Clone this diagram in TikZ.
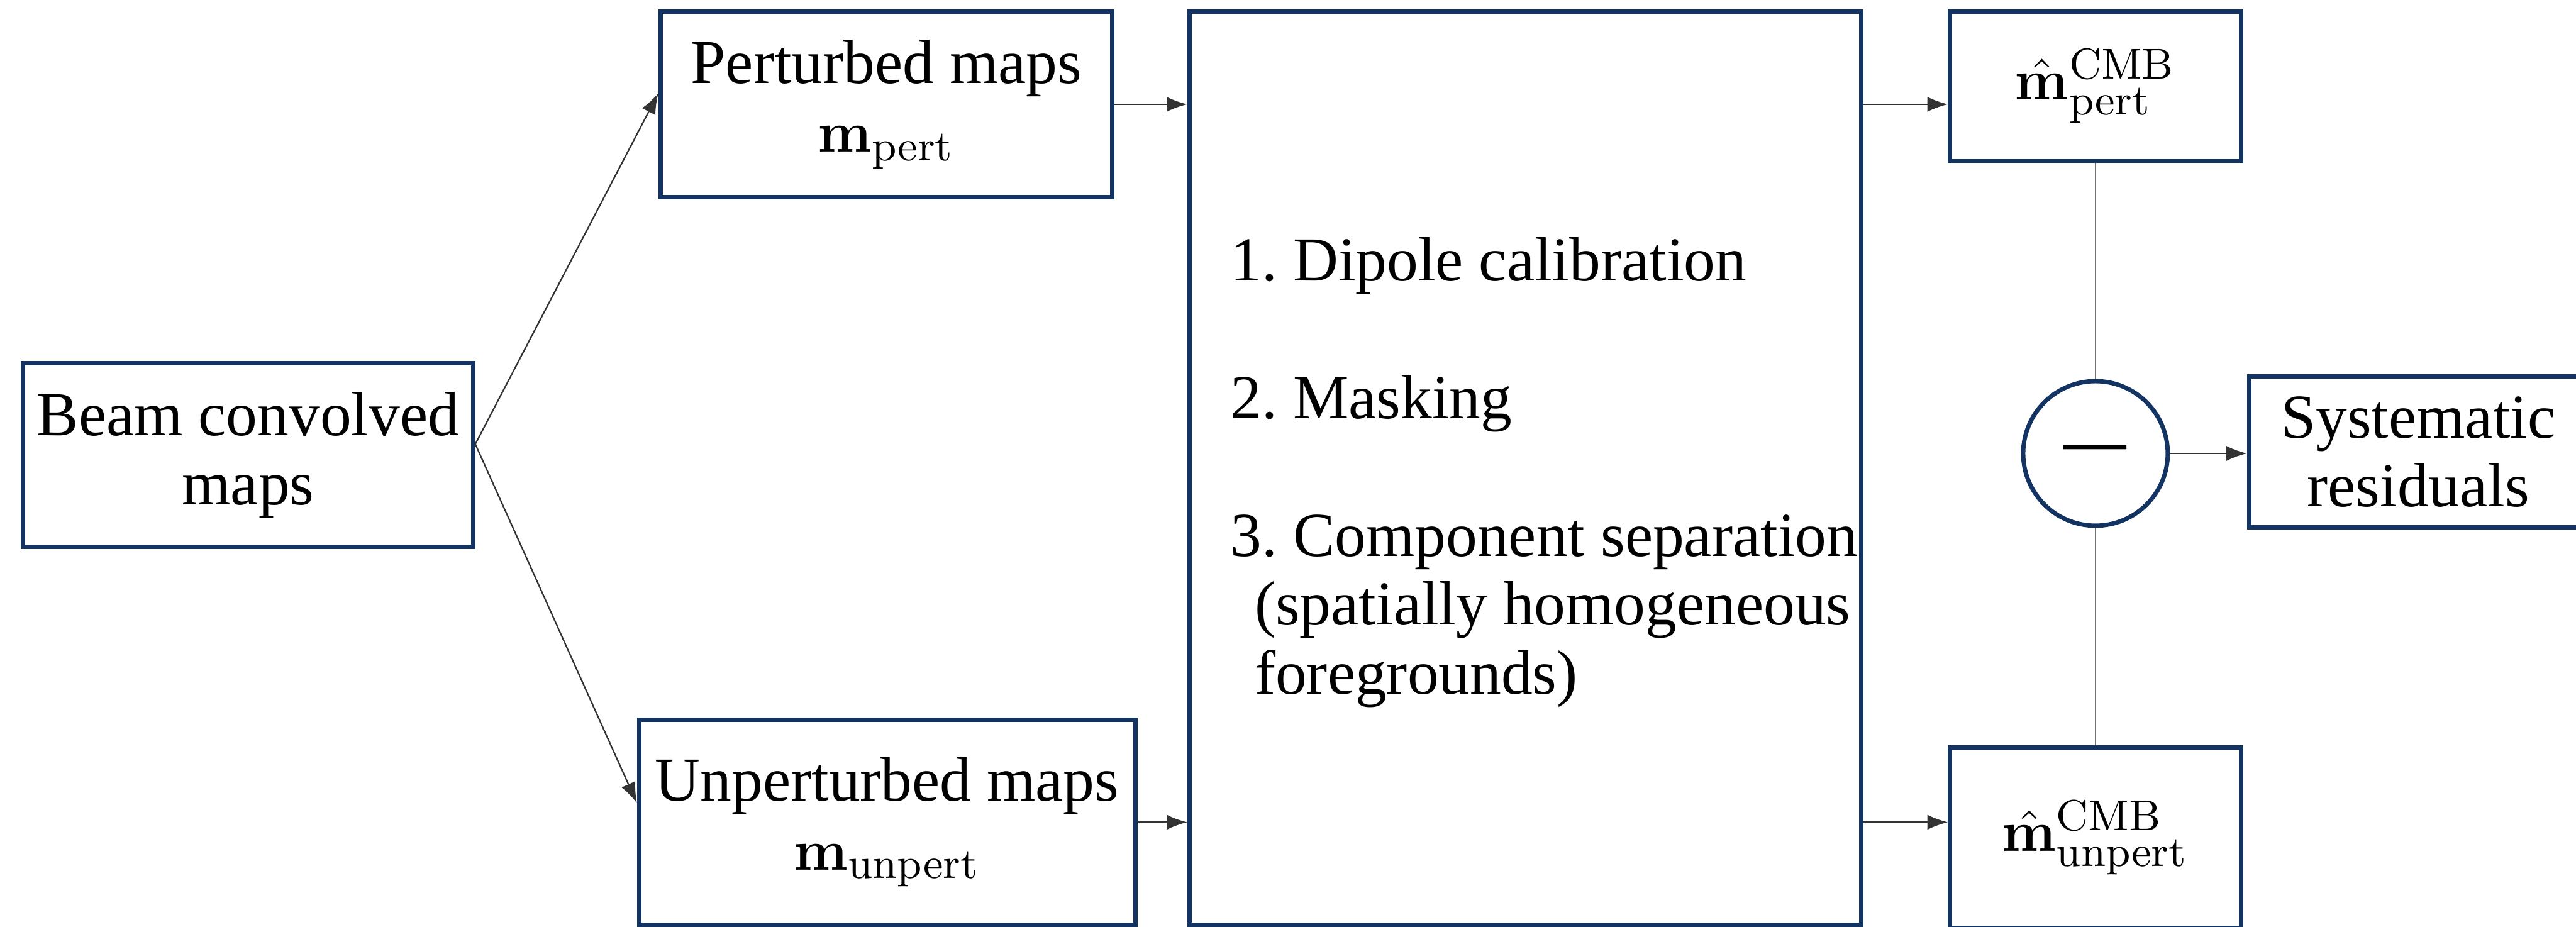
\documentclass[tikz,border=0pt]{standalone}
\usepackage{amsmath}
\usepackage[no-math]{fontspec}
\setmainfont{Liberation Serif}
\usepackage{tikz}
\usepackage{xcolor}
\usetikzlibrary{arrows.meta, positioning}
\definecolor{boxNavy}{RGB}{19,52,98}
\frenchspacing

\begin{document}
\begin{tikzpicture}[
  every node/.style={font=\fontsize{13}{14.3}\selectfont},
  blk/.style={draw=boxNavy, line width=0.9pt, align=center, inner sep=0pt},
  conn/.style={-{Latex[length=1.5mm,width=1.1mm]}, line width=0.3pt, black!80},
  link/.style={line width=0.3pt, black!55}
]
  \useasboundingbox (0,0) rectangle (18.816,6.768);
  % input and the two map sets
  \node[blk, minimum width=3.288cm, minimum height=1.344cm] (beam) at (1.812,3.444) {Beam convolved\\maps};
  \node[blk, minimum width=3.30cm, minimum height=1.356cm] (pert) at (6.474,6.006) {Perturbed maps\\$\mathbf{m}_{\mathrm{pert}}$};
  \node[blk, minimum width=3.624cm, minimum height=1.5cm] (unpert) at (6.48,0.762) {Unperturbed maps\\$\mathbf{m}_{\mathrm{unpert}}$};
  % processing steps
  \node[blk, minimum width=4.908cm, minimum height=6.672cm] (pipe) at (11.142,3.348) {};
  \node[anchor=west, align=left, inner sep=0pt] (steps) at ([xshift=3.1mm,yshift=-0.3mm]pipe.west) {1. Dipole calibration\\[14.3pt]
    2. Masking\\[14.3pt]
    3. Component separation\\
    \hspace*{5pt}(spatially homogeneous\\
    \hspace*{5pt}foregrounds)};
  % outputs
  \node[blk, minimum width=2.124cm, minimum height=1.092cm] (pertcmb) at (15.306,6.138) {$\hat{\mathbf{m}}^{\mathrm{CMB}}_{\mathrm{pert}}$};
  \node[blk, minimum width=2.124cm, minimum height=1.32cm] (unpertcmb) at (15.306,0.648) {$\hat{\mathbf{m}}^{\mathrm{CMB}}_{\mathrm{unpert}}$};
  \node[circle, draw=boxNavy, line width=0.9pt, minimum size=1.056cm, inner sep=0pt] (minus) at (15.306,3.456) {\textbf{—}};
  \node[blk, minimum width=2.472cm, minimum height=1.104cm] (sysres) at (17.664,3.468) {Systematic\\residuals};

  \draw[conn] ([yshift=0.8mm]beam.east) -- ([yshift=0.8mm]pert.west);
  \draw[conn] ([yshift=0.8mm]beam.east) -- ([yshift=1.4mm]unpert.west);
  \draw[conn] (pert.east) -- (pert.east -| pipe.west);
  \draw[conn] (unpert.east) -- (unpert.east -| pipe.west);
  \draw[conn] (pipe.east |- pert.east) -- (pertcmb.west |- pert.east);
  \draw[conn] (pipe.east |- unpert.east) -- (unpertcmb.west |- unpert.east);
  \draw[link] (pertcmb.south) -- (minus.north);
  \draw[link] (minus.south) -- (unpertcmb.north);
  \draw[conn] (minus.east) -- (minus.east -| sysres.west);
\end{tikzpicture}
\end{document}
